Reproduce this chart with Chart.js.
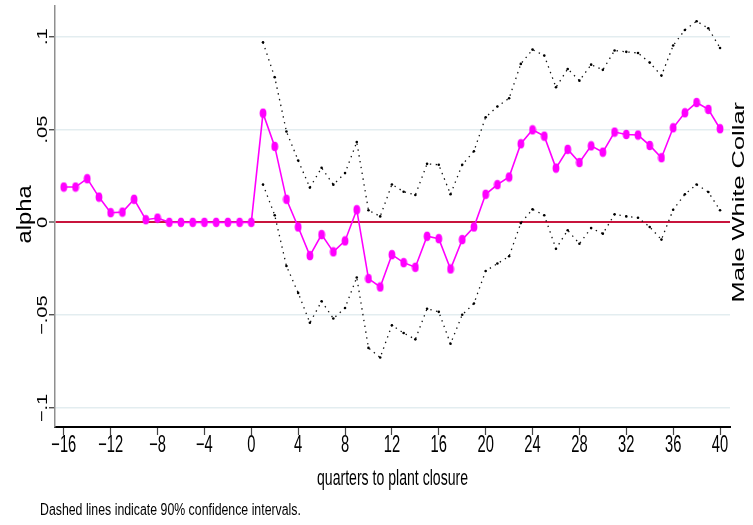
<!DOCTYPE html>
<html>
<head>
<meta charset="utf-8">
<script src="https://cdn.jsdelivr.net/npm/chart.js@4.4.1/dist/chart.umd.min.js"></script>
<style>
html,body{margin:0;padding:0;background:#fff;overflow:hidden}
#wrap{width:753px;height:525px;position:relative}
</style>
</head>
<body>
<div id="wrap"><canvas id="c"></canvas></div>
<script>
// ---- data ----
const quarters = [-16,-15,-14,-13,-12,-11,-10,-9,-8,-7,-6,-5,-4,-3,-2,-1,0,
  1,2,3,4,5,6,7,8,9,10,11,12,13,14,15,16,17,18,19,20,
  21,22,23,24,25,26,27,28,29,30,31,32,33,34,35,36,37,38,39,40];
const alpha = [0.0190,0.0190,0.0235,0.0136,0.0052,0.0055,0.0124,0.0014,0.0023,0,0,0,0,0,0,0,0,
  0.0588,0.0409,0.0124,-0.0025,-0.0179,-0.0066,-0.0159,-0.0100,0.0068,-0.0303,
  -0.0348,-0.0174,-0.0217,-0.0242,-0.0075,-0.0088,-0.0251,-0.0093,-0.0025,0.0151,
  0.0203,0.0244,0.0423,0.0498,0.0464,0.0292,0.0393,0.0322,0.0412,0.0378,
  0.0486,0.0473,0.0470,0.0414,0.0348,0.0509,0.0590,0.0645,0.0608,0.0504];
const ciQuarters = [1,2,3,4,5,6,7,8,9,10,11,12,13,14,15,16,17,18,19,20,
  21,22,23,24,25,26,27,28,29,30,31,32,33,34,35,36,37,38,39,40];
const ciUpper = [0.0969,0.0781,0.0489,0.0333,0.0187,0.0294,0.0203,0.0265,0.0432,0.0065,
  0.0032,0.0204,0.0165,0.0147,0.0315,0.0310,0.0151,0.0310,0.0383,0.0566,
  0.0624,0.0668,0.0853,0.0930,0.0898,0.0727,0.0826,0.0763,0.0849,0.0821,
  0.0925,0.0918,0.0912,0.0860,0.0790,0.0952,0.1036,0.1083,0.1045,0.0939];
const ciLower = [0.0204,0.0038,-0.0235,-0.0380,-0.0541,-0.0425,-0.0518,-0.0461,-0.0297,-0.0676,
  -0.0728,-0.0554,-0.0596,-0.0630,-0.0465,-0.0482,-0.0654,-0.0498,-0.0437,-0.0262,
  -0.0222,-0.0183,-0.0004,0.0070,0.0038,-0.0142,-0.0043,-0.0115,-0.0031,-0.0061,
  0.0043,0.0032,0.0025,-0.0025,-0.0093,0.0068,0.0151,0.0204,0.0163,0.0065];
const xTickValues = [-16,-12,-8,-4,0,4,8,12,16,20,24,28,32,36,40];
const xTickLabels = ['\u221216','\u221212','\u22128','\u22124','0','4','8','12','16','20','24','28','32','36','40'];
const yTickValues = [-0.1,-0.05,0,0.05,0.1];
const yTickLabels = ['\u2212.1','\u2212.05','0','.05','.1'];
const yTitle = 'alpha';
const xTitle = 'quarters to plant closure';
const sideTitle = 'Male White Collar';
const note = 'Dashed lines indicate 90% confidence intervals.';

function pts(xs, ys){ return xs.map((x,i)=>({x:x, y:ys[i]})); }

// elliptical marker (taller than wide, as in the reference)
const marker = document.createElement('canvas');
marker.width = 8; marker.height = 11;
(function(){
  const m = marker.getContext('2d');
  m.fillStyle = '#ff00ff';
  m.beginPath(); m.ellipse(4,5.5,3.4,4.7,0,0,Math.PI*2); m.fill();
})();

const FONT = '"Liberation Sans", Arial, Helvetica, sans-serif';
function hText(ctx, s, x, y, size, sx, align){
  ctx.save(); ctx.translate(x,y); ctx.scale(sx,1);
  ctx.font = size+'px '+FONT; ctx.fillStyle='#000';
  ctx.textAlign = align; ctx.textBaseline='alphabetic';
  ctx.fillText(s,0,0); ctx.restore();
}
function vText(ctx, s, x, y, size, st){
  ctx.save(); ctx.translate(x,y); ctx.rotate(-Math.PI/2); ctx.scale(st,1);
  ctx.font = size+'px '+FONT; ctx.fillStyle='#000';
  ctx.textAlign='center'; ctx.textBaseline='alphabetic';
  ctx.fillText(s,0,0); ctx.restore();
}

const textPlugin = {
  id:'stataText',
  afterDraw(chart){
    const ctx = chart.ctx, xs = chart.scales.x, ys = chart.scales.y, a = chart.chartArea;
    xTickValues.forEach((v,i)=> hText(ctx, xTickLabels[i], xs.getPixelForValue(v), a.bottom+25, 23, 0.64, 'center'));
    yTickValues.forEach((v,i)=> vText(ctx, yTickLabels[i], a.left-8.5, ys.getPixelForValue(v), 15.5, 1.3));
    hText(ctx, xTitle, (a.left+a.right)/2, a.bottom+58, 22, 0.64, 'center');
    hText(ctx, note, 40, a.bottom+88, 16, 0.77, 'left');
    vText(ctx, yTitle, 30.5, ys.getPixelForValue(0.0043), 21, 1.13);
    vText(ctx, sideTitle, a.right+14, ys.getPixelForValue(0.0108), 16.5, 1.54);
  }
};

new Chart(document.getElementById('c'), {
  type:'line',
  data:{datasets:[
    {label:'alpha', data:pts(quarters, alpha), borderColor:'#ff00ff', borderWidth:1.6,
     pointStyle:marker, pointRadius:4, tension:0, fill:false},
    {label:'upper 90% CI', data:pts(ciQuarters, ciUpper), borderColor:'#111', borderWidth:1.3,
     borderDash:[1.4,4.5], pointRadius:1.3, pointBackgroundColor:'#000', pointBorderWidth:0, tension:0, fill:false},
    {label:'lower 90% CI', data:pts(ciQuarters, ciLower), borderColor:'#111', borderWidth:1.3,
     borderDash:[1.4,4.5], pointRadius:1.3, pointBackgroundColor:'#000', pointBorderWidth:0, tension:0, fill:false}
  ]},
  options:{
    responsive:true, maintainAspectRatio:false, animation:false, events:[], devicePixelRatio:1,
    layout:{padding:{top:5,right:23,left:0,bottom:0}},
    plugins:{legend:{display:false}, tooltip:{enabled:false}, title:{display:false}},
    scales:{
      x:{type:'linear', min:-16.75, max:40.85,
        afterBuildTicks:s=>{ s.ticks = xTickValues.map(v=>({value:v})); },
        afterFit:s=>{ s.height = 98; },
        ticks:{display:false},
        grid:{display:true, drawOnChartArea:false, drawTicks:true, tickLength:8, tickColor:'#444', tickWidth:1.2},
        border:{display:true, color:'#000', width:2}},
      y:{type:'linear', min:-0.1102, max:0.1167,
        afterBuildTicks:s=>{ s.ticks = yTickValues.map(v=>({value:v})); },
        afterFit:s=>{ s.width = 55; },
        ticks:{display:false},
        grid:{display:true, drawOnChartArea:true, drawTicks:true, tickLength:6, tickColor:'#333', tickWidth:1.2,
          color:c=> (c.tick && c.tick.value===0) ? '#c8143c' : '#e3edf0',
          lineWidth:c=> (c.tick && c.tick.value===0) ? 2 : 1.5},
        border:{display:true, color:'#8f8f8f', width:1.5}}
    }
  },
  plugins:[textPlugin]
});
</script>
</body>
</html>
